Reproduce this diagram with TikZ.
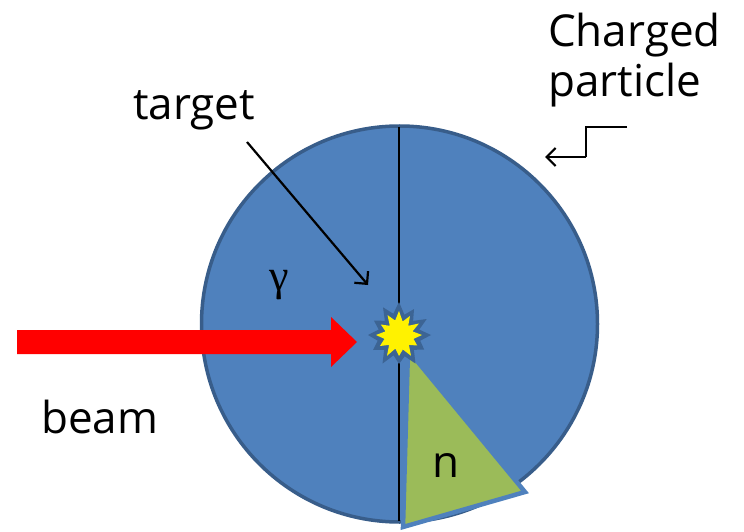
\documentclass[tikz,border=0pt]{standalone}
\usepackage{fontspec}
\setmainfont{Open Sans}
\newfontfamily\gammafont{Liberation Serif}
\usetikzlibrary{arrows.meta}
\definecolor{detfill}{HTML}{4F81BD}
\definecolor{detdraw}{HTML}{385D8A}
\definecolor{nfill}{HTML}{9BBB59}
\definecolor{nborder}{HTML}{4F81BD}
\definecolor{burstdraw}{HTML}{3C6494}
\begin{document}
\begin{tikzpicture}[x=1pt,y=-1pt,
  lbl/.style={inner sep=0pt,font=\fontsize{44}{53}\selectfont},
  pointer/.style={black,line width=2.2pt,-{Straight Barb[length=9pt,width=18pt,line width=2.2pt]}}]
\useasboundingbox (0,0) rectangle (744,532);
% detector
\node[circle,minimum size=396pt,inner sep=0pt,fill=detfill,draw=detdraw,line width=3.5pt] (det) at (399.5,324) {};
\draw[black,line width=2pt] (399,127) -- (399,521);
% beam arrow
\fill[red] (17,330) -- (331,330) -- (331,317) -- (357,342) -- (331,367) -- (331,354) -- (17,354) -- cycle;
% neutron cone
\filldraw[fill=nfill,draw=nborder,line width=4.5pt,line join=miter] (408,350) -- (403,527) -- (525,492) -- cycle;
% starburst target
\begin{scope}[shift={(399,335)}]
\fill[burstdraw,line join=round]
 (0:32) -- (15:22) -- (30:29) -- (45:21) -- (60:33) -- (75:22) -- (90:29) -- (105:21)
 -- (120:33) -- (135:21) -- (150:30) -- (165:22) -- (180:31) -- (195:21) -- (210:29)
 -- (225:20) -- (240:32) -- (255:22) -- (270:33) -- (285:21) -- (300:30) -- (315:20)
 -- (330:32) -- (345:21) -- cycle;
\fill[yellow]
 (0:23) -- (15:15) -- (30:21) -- (45:14) -- (60:24) -- (75:15) -- (90:21) -- (105:14)
 -- (120:24) -- (135:14) -- (150:22) -- (165:15) -- (180:23) -- (195:14) -- (210:21)
 -- (225:13) -- (240:23) -- (255:15) -- (270:24) -- (285:14) -- (300:22) -- (315:13)
 -- (330:23) -- (345:14) -- cycle;
\end{scope}
% labels
\node[lbl,anchor=base west] (target) at (133,120) {target};
\node[lbl,anchor=base west] (beam) at (41,433) {beam};
\node[lbl,anchor=base west] (charged) at (548,47) {Charged};
\node[lbl,anchor=base west] (particle) at (548,97) {particle};
\node[lbl,anchor=base,font=\gammafont\fontsize{44}{53}\selectfont] (gamma) at (279,290) {γ};
\node[lbl,anchor=base] (neutron) at (446,477) {n};
% pointers
\coordinate (tgtA) at (247,142);
\coordinate (tgtB) at (368,285);
\draw[pointer] (tgtA) -- (tgtB);
\coordinate (cpA) at (627,127);
\coordinate (cpB) at (586,157);
\coordinate (cpC) at (545,157);
\draw[black,line width=2.2pt] (cpA) -| (cpB);
\draw[pointer] (cpB) -- (cpC);
\end{tikzpicture}
\end{document}
